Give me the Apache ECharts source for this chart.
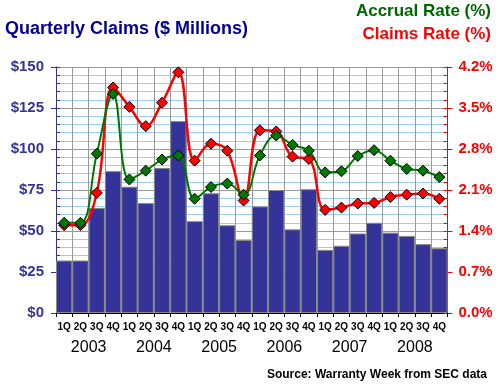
<!DOCTYPE html>
<html>
<head>
<meta charset="utf-8">
<script src="https://cdn.jsdelivr.net/npm/echarts@6/dist/echarts.min.js"></script>
<style>
html,body{margin:0;padding:0;background:#fff;}
#c{width:500px;height:387px;}
</style>
</head>
<body>
<div id="c"></div>
<script>
var years = ['2003','2004','2005','2006','2007','2008'];
var quarters = ['1Q','2Q','3Q','4Q'];
var claims = [32,32,64,86.5,77,67,88.5,117,56,73,53.5,44.5,65,75,51,75.5,38.5,41,48.5,55,49,47,42,39.5];
var claimsRate = [1.50,1.50,2.05,3.85,3.52,3.19,3.59,4.11,2.60,2.89,2.77,1.92,3.12,3.10,2.67,2.63,1.76,1.80,1.87,1.88,1.98,2.02,2.04,1.95];
var accrualRate = [1.54,1.54,2.72,3.74,2.28,2.43,2.62,2.69,1.95,2.15,2.21,2.02,2.69,3.03,2.87,2.77,2.40,2.42,2.68,2.78,2.60,2.46,2.43,2.32];
var leftTicks = [0,150,25];
var rightTicks = [0,4.2,0.7];

var categories = [];
years.forEach(function(y){ quarters.forEach(function(q){ categories.push(y + ' ' + q); }); });

var FONT = 'Liberation Sans, Arial, sans-serif';
var chart = echarts.init(document.getElementById('c'));
chart.setOption({
  animation: false,
  backgroundColor: '#fff',
  grid: {left: 56, right: 52.5, top: 67, bottom: 74, containLabel: false},
  graphic: [
    {type:'text', left: 5, top: 20, style:{text:'Quarterly Claims ($ Millions)', font:'bold 18px ' + FONT, fill:'#000099'}},
    {type:'text', right: 9, top: 3, style:{text:'Accrual Rate (%)', font:'bold 17px ' + FONT, fill:'#006600'}},
    {type:'text', right: 9, top: 26, style:{text:'Claims Rate (%)', font:'bold 17px ' + FONT, fill:'#ff0000'}},
    {type:'text', right: 13, top: 369, style:{text:'Source: Warranty Week from SEC data', font:'bold 12px ' + FONT, fill:'#000'}}
  ],
  xAxis: [
    {
      type: 'category', data: categories, position: 'bottom',
      axisLine: {show: true, lineStyle: {color: '#000', width: 1}},
      axisTick: {show: true, interval: 0, length: 4, lineStyle: {color: '#000'}},
      axisLabel: {interval: 0, margin: 9, fontSize: 10, fontWeight: 'bold', color: '#000', fontFamily: FONT,
        formatter: function(v){ return v.split(' ')[1]; }},
      splitLine: {show: true, interval: 0, lineStyle: {color: '#999', width: 1}}
    },
    {
      type: 'category', data: years, position: 'bottom',
      axisLine: {show: false}, axisTick: {show: false}, splitLine: {show: false},
      axisLabel: {interval: 0, margin: 27, fontSize: 16, color: '#000', fontFamily: FONT}
    }
  ],
  yAxis: [
    {
      type: 'value', position: 'left', min: leftTicks[0], max: leftTicks[1], interval: 5,
      axisLine: {show: false}, axisLabel: {show: false},
      axisTick: {show: true, inside: true, length: 4, lineStyle: {color: '#333399'}},
      splitLine: {show: true, lineStyle: {color: '#99ccff', width: 1}}
    },
    {
      type: 'value', position: 'left', min: leftTicks[0], max: leftTicks[1], interval: leftTicks[2],
      axisLine: {show: true, lineStyle: {color: '#333399', width: 1}},
      axisTick: {show: true, length: 5, lineStyle: {color: '#333399'}},
      axisLabel: {margin: 12, fontSize: 15, fontWeight: 'bold', color: '#333399', fontFamily: FONT,
        formatter: function(v){ return '$' + v; }},
      splitLine: {show: true, lineStyle: {color: '#999', width: 1}}
    },
    {
      type: 'value', position: 'right', min: rightTicks[0], max: rightTicks[1], interval: rightTicks[2],
      axisLine: {show: true, lineStyle: {color: '#ff0000', width: 1}},
      axisTick: {show: true, length: 5, lineStyle: {color: '#ff0000'}},
      axisLabel: {margin: 11, fontSize: 15, fontWeight: 'bold', color: '#ff0000', fontFamily: FONT,
        formatter: function(v){ return v.toFixed(1) + '%'; }},
      splitLine: {show: false}
    },
    {
      type: 'value', position: 'right', min: leftTicks[0], max: leftTicks[1], interval: 5,
      axisLine: {show: false}, axisLabel: {show: false},
      axisTick: {show: true, inside: true, length: 4, lineStyle: {color: '#ff0000'}},
      splitLine: {show: false}
    }
  ],
  series: [
    {
      name: 'Quarterly Claims', type: 'bar', data: claims, xAxisIndex: 0, yAxisIndex: 1,
      barCategoryGap: '0%', barGap: '0%',
      itemStyle: {color: '#333399', borderColor: '#888', borderWidth: 1}
    },
    {
      name: 'Claims Rate (%)', type: 'line', data: claimsRate, xAxisIndex: 0, yAxisIndex: 2,
      smooth: 0.4, symbol: 'diamond', symbolSize: 11,
      lineStyle: {color: '#ff0000', width: 2.5},
      itemStyle: {color: '#ff0000', borderColor: '#000', borderWidth: 1}
    },
    {
      name: 'Accrual Rate (%)', type: 'line', data: accrualRate, xAxisIndex: 0, yAxisIndex: 2,
      smooth: 0.4, symbol: 'diamond', symbolSize: 11,
      lineStyle: {color: '#007700', width: 2},
      itemStyle: {color: '#007700', borderColor: '#000', borderWidth: 1}
    }
  ]
});
</script>
</body>
</html>
